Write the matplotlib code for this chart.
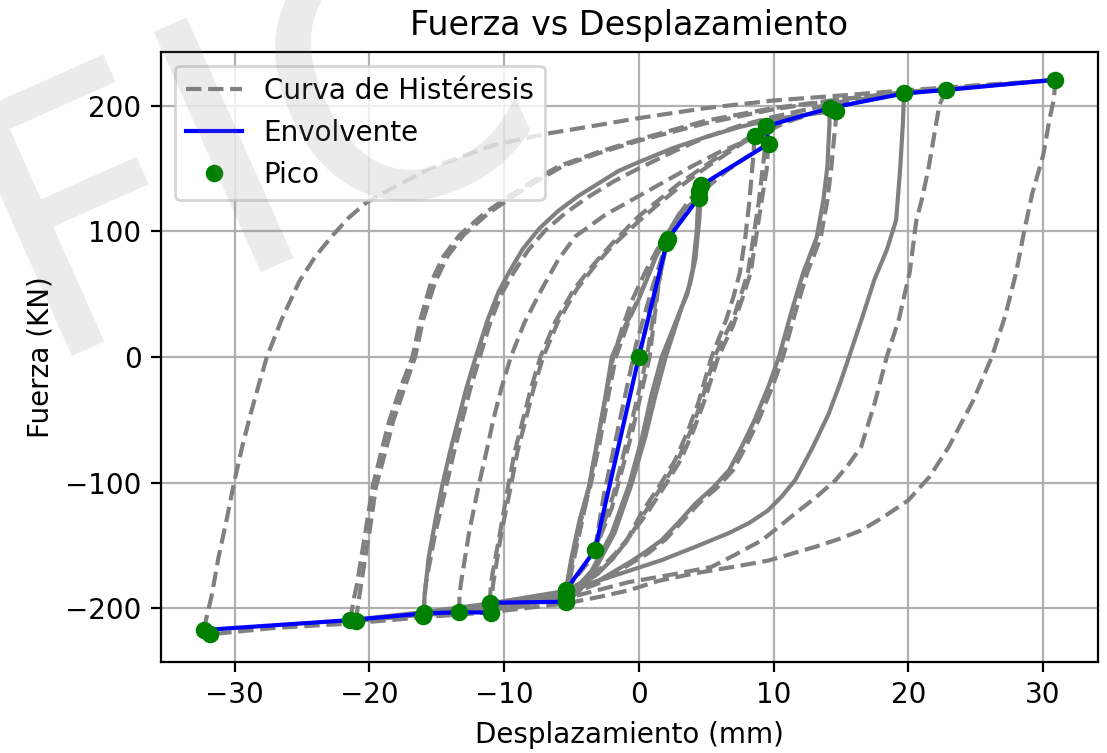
import matplotlib
matplotlib.use("Agg")
import matplotlib.pyplot as plt

# Picos registrados en el ensayo (desplazamiento en mm, fuerza en kN)
pico_x = [0.0, 2.14, 2.05, 4.45, 4.62, 4.50, 9.63, 9.46, 8.59, 14.16, 14.66,
          19.69, 22.79, 30.92, -3.26, -5.41, -5.41, -5.41, -11.07, -11.00,
          -13.35, -15.95, -16.00, -21.40, -21.00, -32.30, -31.80]
pico_y = [0.0, 93.7, 90.5, 126.7, 136.5, 132.0, 169.6, 183.6, 176.0, 198.0,
          195.5, 209.6, 212.4, 220.5, -153.7, -185.4, -190.0, -194.7, -195.5,
          -203.4, -203.0, -204.0, -206.0, -209.3, -210.0, -217.2, -220.6]

# Envolvente de picos
env_x = [-32.30, -21.40, -15.95, -13.35, -11.00, -11.07, -5.41, -5.41, -3.26,
         0.0, 2.14, 4.45, 4.62, 9.63, 9.46, 14.16, 19.69, 22.79, 30.92]
env_y = [-217.2, -209.3, -204.0, -203.0, -203.4, -195.5, -194.7, -185.4,
         -153.7, 0.0, 93.7, 126.7, 136.5, 169.6, 183.6, 198.0, 209.6, 212.4,
         220.5]

# Ramas de la curva de histéresis (en orden de ensayo)
r01_x = [0.0, 1.0, 2.14, 1.4, 0.6, -0.6, -1.9, -3.26, -2.6, -1.3, -0.2, 1.0, 2.05]
r01_y = [0.0, 45, 93.7, 55, 0, -55, -110, -153.7, -110, -45, 10, 55, 90.5]
r02_x = [2.05, 1.5, 0.8, -0.5, -2.0, -3.5, -5.41]
r02_y = [90.5, 60, 0, -60, -120, -160, -185.4]
r03_x = [-5.41, -5.0, -4.4, -3.7, -3.1, -2.5, -2.0, -1.0, 0.0, 0.8, 1.5, 2.3, 3.0, 3.8, 4.45]
r03_y = [-185.4, -160, -130, -103, -68, -33, 0, 25, 46, 67, 86, 101, 114, 121, 126.7]
r04_x = [4.45, 4.35, 4.3, 4.0, 3.6, 3.0, 2.3, 1.7, 0.9, 0.25, -0.7, -2.0, -3.5, -4.5, -5.41]
r04_y = [126.7, 112, 100, 70, 50, 35, 16, 0, -32, -63.6, -101, -140, -170, -182, -190.0]
r05_x = [-5.41, -4.9, -4.3, -3.6, -2.9, -2.3, -1.7, -0.7, 0.5, 1.2, 2.0, 2.7, 3.3, 4.0, 4.62]
r05_y = [-190.0, -160, -130, -103, -68, -33, 0, 30, 60, 78, 95, 108, 118, 128, 136.5]
r06_x = [4.62, 4.55, 4.5, 4.2, 3.8, 3.2, 2.6, 2.0, 1.2, 0.5, -0.5, -1.8, -3.4, -4.4, -5.41]
r06_y = [136.5, 122, 110, 78, 58, 40, 20, 0, -32, -63, -100, -140, -172, -186, -194.7]
r07_x = [-5.41, -4.9, -4.4, -3.8, -3.2, -2.6, -1.9, -1.2, -0.5, 0.5, 1.5, 2.7, 4.0, 5.2, 6.5, 8.0, 9.63]
r07_y = [-194.7, -165, -140, -110, -75, -40, 0, 24, 45, 68, 88, 106, 122, 136, 148, 159, 169.6]
r08_x = [9.63, 9.55, 9.5, 9.1, 8.7, 8.3, 7.7, 7.0, 5.9, 4.8, 4.0, 3.1, 1.9, 0.6, -0.7,
         -1.8, -3.0, -4.2, -5.41, -8.0, -11.07]
r08_y = [169.6, 160, 150, 123, 95, 67, 47, 25, 0, -37, -60, -82, -103, -124.5, -143,
         -157, -170, -179, -186, -192, -195.5]
r09_x = [-11.07, -11.0, -10.9, -10.3, -9.7, -9.2, -8.6, -8.0, -7.3, -6.2, -4.8, -3.4,
         -2.0, 0.0, 1.5, 3.0, 4.5, 6.0, 7.8, 9.46]
r09_y = [-195.5, -185, -175, -140, -103, -75, -50, -25, 0, 28, 54, 73, 90, 112, 125,
         138, 149, 160, 172, 183.6]
r10_x = [9.46, 9.4, 9.3, 8.9, 8.5, 8.1, 7.6, 7.0, 5.6, 4.6, 3.8, 2.9, 1.7, 0.4, -0.8,
         -1.9, -3.0, -4.2, -5.41, -8.0, -11.0]
r10_y = [183.6, 172, 160, 123, 95, 67, 50, 30, 0, -37, -60, -82, -103, -124.5, -145,
         -160, -172, -181, -188, -196, -203.4]
r11_x = [-11.0, -10.9, -10.8, -10.2, -9.5, -9.0, -8.4, -7.8, -7.1, -6.0, -4.6, -3.3,
         -2.0, 0.0, 1.5, 3.0, 4.5, 6.0, 7.4, 8.59]
r11_y = [-203.4, -190, -180, -140, -103, -75, -50, -25, 0, 28, 54, 72, 88, 108, 122,
         135, 147, 158, 168, 176.0]
r12_x = [8.59, 8.55, 8.5, 8.2, 7.9, 7.5, 7.0, 6.5, 5.4, 4.4, 3.6, 2.7, 1.5, 0.2, -1.0,
         -2.0, -3.0, -4.2, -5.41, -9.0, -13.35]
r12_y = [176.0, 168, 160, 123, 95, 67, 47, 30, 0, -37, -60, -82, -103, -124, -148,
         -161, -172, -181, -189, -199, -203.0]
r13_x = [-13.35, -13.3, -13.2, -12.6, -11.9, -11.3, -10.8, -10.2, -9.5, -8.5, -7.2,
         -6.0, -4.7, -2.5, 0.0, 2.0, 4.0, 6.0, 8.0, 11.0, 14.16]
r13_y = [-203.0, -190, -180, -140, -103, -75, -50, -25, 0, 27, 54, 77, 96, 113, 128,
         140, 152, 163, 172, 187, 198.0]
r14_x = [14.16, 14.15, 14.1, 14.0, 13.7, 13.2, 12.2, 11.3, 10.4, 9.6, 8.6, 7.7, 6.7,
         5.5, 4.2, 3.0, 1.7, 0.5, -0.7, -3.0, -5.41, -11.0, -15.95]
r14_y = [198.0, 185, 175, 152, 125, 95, 67, 35, 0, -24, -50, -70, -90, -104, -116.6,
         -131, -145.7, -155, -163.5, -178, -188, -197, -204.0]
r15_x = [-15.95, -15.9, -15.6, -15.1, -14.6, -14.0, -13.4, -12.8, -12.1, -11.2, -10.4,
         -9.6, -8.6, -7.4, -6.0, -4.5, -3.0, -1.5, 0.0, 2.5, 5.0, 7.5, 10.0, 12.5, 14.66]
r15_y = [-204.0, -190, -160, -130, -103, -75, -50, -25, 0, 30, 52, 68, 86, 102, 116,
         128, 138, 148, 155, 166, 175, 183, 189, 193, 195.5]
r16_x = [14.66, 14.6, 14.5, 14.3, 14.0, 13.5, 12.5, 11.6, 10.7, 9.9, 8.9, 8.0, 7.0,
         5.8, 4.5, 3.2, 2.0, 0.7, -0.7, -3.0, -5.41, -11.0, -16.0]
r16_y = [195.5, 185, 175, 152, 125, 95, 67, 35, 0, -24, -50, -70, -90, -104, -116,
         -131, -145, -156, -165, -180, -190, -199, -206.0]
r17_x = [-16.0, -15.9, -15.8, -15.1, -14.3, -13.7, -13.1, -12.5, -11.8, -11.0, -10.2,
         -9.3, -8.2, -7.0, -5.5, -3.8, -1.8, 0.0, 2.5, 5.0, 7.5, 10.0, 15.0, 19.69]
r17_y = [-206.0, -190, -180, -140, -103, -75, -50, -25, 0, 28, 50, 67, 85, 100, 114,
         127, 140, 150, 163, 175, 184, 191, 203, 209.6]
r18_x = [19.69, 19.65, 19.6, 19.4, 19.1, 18.4, 17.5, 16.6, 15.6, 14.9, 14.1, 12.9,
         11.6, 10.6, 9.6, 8.2, 6.7, 4.2, 1.7, -0.7, -3.0, -5.41, -11.0, -16.0, -21.4]
r18_y = [209.6, 200, 186, 150, 109, 85, 62, 32, 0, -22, -45, -72, -98, -111, -122,
         -132, -140, -151, -161.6, -170, -178, -186, -196, -203, -209.3]
r19_x = [-21.4, -21.2, -20.9, -20.3, -19.75, -19.1, -18.5, -17.7, -16.8, -16.2, -15.4,
         -14.5, -13.3, -11.5, -9.6, -7.7, -5.9, -3.0, 0.0, 5.0, 10.0, 15.0, 19.7, 22.79]
r19_y = [-209.3, -195, -180, -140, -103, -75, -50, -25, 0, 30, 60, 80, 97, 114, 128,
         141, 152, 163, 173, 188, 198, 205, 210, 212.4]
r20_x = [22.79, 22.5, 22.3, 21.9, 21.5, 21.0, 20.6, 20.1, 19.3, 18.4, 17.5, 16.5, 15.6,
         14.6, 13.1, 11.6, 10.3, 9.1, 7.2, 5.4, 2.5, -0.7, -5.41, -11.0, -16.0, -21.0]
r20_y = [212.4, 205, 200, 175, 150, 125, 109, 67, 30, 0, -37, -71.5, -85, -98, -112,
         -124.5, -136, -146, -157, -167, -173, -179, -192, -200, -205, -210.0]
r21_x = [-21.0, -20.8, -20.6, -20.0, -19.5, -18.8, -18.2, -17.4, -16.6, -16.0, -15.1,
         -14.2, -13.0, -11.2, -9.3, -7.4, -5.6, -3.0, 0.0, 5.0, 10.0, 15.0, 20.0, 25.0, 30.92]
r21_y = [-210.0, -195, -180, -140, -103, -75, -50, -25, 0, 30, 60, 80, 97, 114, 128,
         141, 152, 162, 172, 186, 197, 205, 211, 215, 220.5]
r22_x = [30.92, 30.8, 30.5, 30.0, 29.2, 28.6, 28.0, 27.2, 26.2, 24.8, 23.0, 21.6, 20.0,
         18.2, 16.5, 14.8, 13.1, 9.6, 7.0, 4.2, 1.5, -0.7, -3.0, -5.41, -11.0, -16.0,
         -21.4, -27.0, -31.8]
r22_y = [220.5, 205, 190, 160, 130, 100, 67, 33, 0, -35, -71.5, -95, -114, -127, -138,
         -145, -151, -162, -167, -172, -178, -185.5, -191, -196, -203, -207, -212,
         -215.5, -220.6]
r23_x = [-32.3, -31.7, -31.2, -30.6, -30.0, -29.4, -28.8, -28.2, -27.6, -26.5, -25.2,
         -24.0, -22.7, -21.5, -20.2, -18.0, -15.5, -13.0, -10.9, -8.7, -6.6, -3.0, 0.0,
         5.0, 10.0, 15.0, 19.7, 25.0, 30.7]
r23_y = [-217.2, -190, -160, -130, -98, -70, -45, -22, 0, 30, 60, 80, 97, 111, 123,
         136, 150, 160, 168, 173.5, 178, 184.5, 190, 198, 204, 208, 212, 216, 220.0]

ramas = [r01_x, r01_y, r02_x, r02_y, r03_x, r03_y, r04_x, r04_y, r05_x, r05_y,
         r06_x, r06_y, r07_x, r07_y, r08_x, r08_y, r09_x, r09_y, r10_x, r10_y,
         r11_x, r11_y, r12_x, r12_y, r13_x, r13_y, r14_x, r14_y, r15_x, r15_y,
         r16_x, r16_y, r17_x, r17_y, r18_x, r18_y, r19_x, r19_y, r20_x, r20_y,
         r21_x, r21_y, r22_x, r22_y, r23_x, r23_y]
# Ramas con lectura ruidosa (el trazo discontinuo se ve continuo)
ramas_ruidosas = {3, 4, 6, 14, 15, 18}

fig = plt.figure(figsize=(5.535, 3.765), dpi=200)
ax = fig.add_axes([0.1454, 0.1208, 0.8465, 0.8101])

for i in range(0, len(ramas), 2):
    n = i // 2 + 1
    estilo = '-' if n in ramas_ruidosas else '--'
    etiqueta = 'Curva de Histéresis' if n == 1 else None
    ax.plot(ramas[i], ramas[i + 1], linestyle=estilo, color='gray',
            linewidth=1.5, label=etiqueta)

ax.plot(env_x, env_y, color='blue', linewidth=1.5, label='Envolvente')
ax.plot(pico_x, pico_y, 'o', color='green', markersize=5.3, label='Pico')

ax.set_title('Fuerza vs Desplazamiento')
ax.set_xlabel('Desplazamiento (mm)')
ax.set_ylabel('Fuerza (KN)')
ax.grid(True)
ax.legend(loc='upper left')

# Marca de agua
fig.text(36 / 1107, 1 - 356 / 753, 'FIC', fontsize=130, color='#808080',
         alpha=0.16, rotation=24, rotation_mode='anchor', ha='left',
         va='baseline', zorder=10)

fig.savefig('out.png', dpi=200)
